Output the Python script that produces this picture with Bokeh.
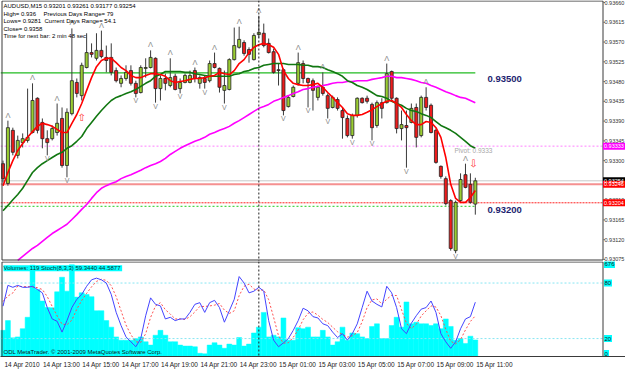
from bokeh.plotting import figure
from bokeh.layouts import column
from bokeh.models import Range1d, FixedTicker, Span, Label, ColumnDataSource
from bokeh.core.properties import value
from bokeh.embed import file_html
from bokeh.resources import INLINE

nan = float("nan")

# ---------------- data ----------------
tick_bars = [0, 8, 16, 24, 32, 40, 48, 56, 64, 72, 80, 88, 96]
tick_labels = ["14 Apr 2010", "14 Apr 13:00", "14 Apr 15:00", "14 Apr 17:00", "14 Apr 19:00",
               "14 Apr 21:00", "14 Apr 23:00", "15 Apr 01:00", "15 Apr 03:00", "15 Apr 05:00",
               "15 Apr 07:00", "15 Apr 09:00", "15 Apr 11:00"]
price_ticks = [0.93075, 0.93120, 0.93165, 0.93210, 0.93255, 0.93300, 0.93345, 0.93390,
               0.93435, 0.93480, 0.93525, 0.93570, 0.93615, 0.93660]

opens = [0.93293, 0.93248, 0.93369, 0.93312, 0.93341, 0.93346, 0.93364, 0.93442, 0.93387, 0.93350,
         0.93350, 0.93364, 0.93396, 0.93289, 0.93407, 0.93478, 0.93448, 0.93512, 0.93546, 0.93533,
         0.93551, 0.93535, 0.93535, 0.93505, 0.93476, 0.93487, 0.93505, 0.93476, 0.93455, 0.93510,
         0.93512, 0.93533, 0.93464, 0.93487, 0.93471, 0.93492, 0.93464, 0.93478, 0.93478, 0.93505,
         0.93476, 0.93487, 0.93482, 0.93521, 0.93510, 0.93460, 0.93462, 0.93530, 0.93558, 0.93569,
         0.93553, 0.93530, 0.93587, 0.93590, 0.93567, 0.93548, 0.93507, 0.93507, 0.93423, 0.93446,
         0.93476, 0.93521, 0.93487, 0.93482, 0.93444, 0.93467, 0.93448, 0.93421, 0.93439, 0.93414,
         0.93396, 0.93357, 0.93403, 0.93442, 0.93442, 0.93428, 0.93380, 0.93432, 0.93432, 0.93503,
         0.93442, 0.93373, 0.93380, 0.93387, 0.93421, 0.93357, 0.93444, 0.93426, 0.93369, 0.93287,
         0.93259, 0.93209, 0.93095, 0.93209, 0.93268, 0.93246, 0.93201]
highs = [0.93300, 0.93391, 0.93375, 0.93357, 0.93362, 0.93464, 0.93476, 0.93444, 0.93396, 0.93369,
         0.93380, 0.93430, 0.93421, 0.93419, 0.93601, 0.93487, 0.93523, 0.93590, 0.93567, 0.93590,
         0.93596, 0.93562, 0.93567, 0.93512, 0.93494, 0.93517, 0.93517, 0.93482, 0.93517, 0.93533,
         0.93551, 0.93535, 0.93494, 0.93498, 0.93533, 0.93498, 0.93487, 0.93498, 0.93505, 0.93512,
         0.93494, 0.93494, 0.93528, 0.93546, 0.93512, 0.93505, 0.93533, 0.93603, 0.93605, 0.93574,
         0.93558, 0.93590, 0.93630, 0.93612, 0.93578, 0.93555, 0.93521, 0.93510, 0.93448, 0.93471,
         0.93546, 0.93528, 0.93489, 0.93487, 0.93471, 0.93501, 0.93453, 0.93448, 0.93444, 0.93421,
         0.93403, 0.93407, 0.93444, 0.93444, 0.93448, 0.93432, 0.93437, 0.93442, 0.93521, 0.93505,
         0.93444, 0.93414, 0.93414, 0.93430, 0.93430, 0.93448, 0.93467, 0.93430, 0.93373, 0.93289,
         0.93264, 0.93212, 0.93209, 0.93271, 0.93293, 0.93271, 0.93261]
lows = [0.93250, 0.93243, 0.93312, 0.93305, 0.93330, 0.93341, 0.93362, 0.93362, 0.93328, 0.93312,
        0.93346, 0.93357, 0.93284, 0.93262, 0.93403, 0.93444, 0.93437, 0.93510, 0.93535, 0.93528,
        0.93533, 0.93501, 0.93494, 0.93478, 0.93467, 0.93482, 0.93471, 0.93444, 0.93453, 0.93489,
        0.93510, 0.93432, 0.93437, 0.93460, 0.93467, 0.93460, 0.93453, 0.93476, 0.93476, 0.93478,
        0.93464, 0.93464, 0.93478, 0.93510, 0.93455, 0.93430, 0.93460, 0.93528, 0.93555, 0.93539,
        0.93523, 0.93528, 0.93580, 0.93558, 0.93544, 0.93498, 0.93471, 0.93403, 0.93421, 0.93444,
        0.93471, 0.93476, 0.93421, 0.93414, 0.93437, 0.93448, 0.93396, 0.93419, 0.93414, 0.93350,
        0.93353, 0.93350, 0.93398, 0.93430, 0.93430, 0.93346, 0.93375, 0.93396, 0.93430, 0.93437,
        0.93362, 0.93346, 0.93284, 0.93385, 0.93330, 0.93353, 0.93414, 0.93362, 0.93293, 0.93259,
        0.93198, 0.93095, 0.93089, 0.93205, 0.93237, 0.93202, 0.93177]
closes = [0.93259, 0.93375, 0.93319, 0.93346, 0.93350, 0.93353, 0.93437, 0.93369, 0.93350, 0.93341,
          0.93373, 0.93385, 0.93289, 0.93410, 0.93482, 0.93453, 0.93517, 0.93546, 0.93542, 0.93551,
          0.93537, 0.93528, 0.93501, 0.93482, 0.93487, 0.93501, 0.93476, 0.93453, 0.93512, 0.93512,
          0.93535, 0.93464, 0.93487, 0.93476, 0.93489, 0.93462, 0.93478, 0.93494, 0.93494, 0.93487,
          0.93489, 0.93478, 0.93521, 0.93512, 0.93467, 0.93471, 0.93530, 0.93562, 0.93576, 0.93544,
          0.93542, 0.93585, 0.93592, 0.93562, 0.93546, 0.93501, 0.93505, 0.93414, 0.93444, 0.93467,
          0.93523, 0.93487, 0.93478, 0.93460, 0.93467, 0.93453, 0.93419, 0.93444, 0.93419, 0.93398,
          0.93357, 0.93403, 0.93442, 0.93432, 0.93435, 0.93375, 0.93432, 0.93419, 0.93498, 0.93442,
          0.93373, 0.93382, 0.93375, 0.93419, 0.93353, 0.93444, 0.93421, 0.93364, 0.93296, 0.93264,
          0.93202, 0.93100, 0.93205, 0.93257, 0.93239, 0.93205, 0.93254]

ma_fast = [0.93243, 0.93273, 0.93300, 0.93323, 0.93339, 0.93353, 0.93366, 0.93378, 0.93385, 0.93382,
           0.93378, 0.93371, 0.93364, 0.93364, 0.93385, 0.93405, 0.93430, 0.93460, 0.93489, 0.93514,
           0.93528, 0.93533, 0.93533, 0.93523, 0.93512, 0.93505, 0.93494, 0.93489, 0.93489, 0.93494,
           0.93498, 0.93498, 0.93496, 0.93492, 0.93482, 0.93478, 0.93480, 0.93482, 0.93485, 0.93487,
           0.93487, 0.93489, 0.93492, 0.93494, 0.93501, 0.93498, 0.93496, 0.93505, 0.93521, 0.93530,
           0.93546, 0.93558, 0.93564, 0.93567, 0.93564, 0.93558, 0.93542, 0.93505, 0.93487, 0.93476,
           0.93473, 0.93471, 0.93471, 0.93473, 0.93476, 0.93467, 0.93455, 0.93444, 0.93432, 0.93421,
           0.93407, 0.93403, 0.93403, 0.93405, 0.93410, 0.93416, 0.93423, 0.93430, 0.93435, 0.93437,
           0.93430, 0.93421, 0.93405, 0.93391, 0.93382, 0.93382, 0.93389, 0.93387, 0.93375, 0.93353,
           0.93307, 0.93246, 0.93214, 0.93205, 0.93205, 0.93216, 0.93232]
ma_mid = [0.93186, 0.93198, 0.93211, 0.93223, 0.93237, 0.93255, 0.93273, 0.93284, 0.93293, 0.93300,
          0.93307, 0.93314, 0.93319, 0.93328, 0.93334, 0.93344, 0.93355, 0.93373, 0.93387, 0.93401,
          0.93414, 0.93426, 0.93437, 0.93444, 0.93448, 0.93453, 0.93457, 0.93462, 0.93469, 0.93476,
          0.93482, 0.93492, 0.93496, 0.93503, 0.93503, 0.93503, 0.93503, 0.93501, 0.93501, 0.93498,
          0.93496, 0.93494, 0.93492, 0.93492, 0.93492, 0.93492, 0.93492, 0.93496, 0.93498, 0.93503,
          0.93505, 0.93510, 0.93512, 0.93517, 0.93519, 0.93521, 0.93521, 0.93521, 0.93519, 0.93519,
          0.93519, 0.93517, 0.93517, 0.93514, 0.93514, 0.93512, 0.93507, 0.93503, 0.93498, 0.93492,
          0.93482, 0.93478, 0.93471, 0.93467, 0.93462, 0.93455, 0.93448, 0.93446, 0.93442, 0.93435,
          0.93430, 0.93426, 0.93419, 0.93414, 0.93412, 0.93407, 0.93403, 0.93398, 0.93389, 0.93380,
          0.93375, 0.93369, 0.93362, 0.93353, 0.93344, 0.93334, 0.93328]
ma_slow = [nan, nan, nan, 0.93073, 0.93082, 0.93091, 0.93100, 0.93107, 0.93116, 0.93125,
           0.93134, 0.93141, 0.93148, 0.93155, 0.93166, 0.93177, 0.93189, 0.93200, 0.93214, 0.93227,
           0.93237, 0.93243, 0.93248, 0.93252, 0.93259, 0.93264, 0.93268, 0.93273, 0.93278, 0.93284,
           0.93289, 0.93293, 0.93298, 0.93305, 0.93314, 0.93321, 0.93328, 0.93334, 0.93339, 0.93344,
           0.93348, 0.93353, 0.93360, 0.93364, 0.93369, 0.93373, 0.93378, 0.93385, 0.93391, 0.93398,
           0.93405, 0.93412, 0.93419, 0.93423, 0.93428, 0.93435, 0.93439, 0.93444, 0.93448, 0.93453,
           0.93457, 0.93462, 0.93464, 0.93467, 0.93469, 0.93471, 0.93473, 0.93476, 0.93478, 0.93478,
           0.93480, 0.93480, 0.93482, 0.93482, 0.93482, 0.93485, 0.93487, 0.93489, 0.93492, 0.93492,
           0.93489, 0.93489, 0.93487, 0.93485, 0.93482, 0.93478, 0.93476, 0.93471, 0.93467, 0.93462,
           0.93457, 0.93453, 0.93448, 0.93444, 0.93442, 0.93437, 0.93432]

volumes = [188, 258, 134, 141, 200, 282, 657, 481, 399, 352,
           350, 465, 570, 470, 660, 427, 458, 446, 430, 329,
           329, 258, 211, 141, 117, 117, 117, 129, 141, 106,
           82, 153, 188, 153, 106, 106, 82, 75, 75, 70,
           23, 19, 82, 99, 82, 59, 89, 82, 136, 75,
           89, 169, 211, 317, 141, 153, 141, 277, 117, 117,
           207, 200, 211, 141, 141, 188, 141, 82, 106, 211,
           117, 169, 164, 141, 129, 216, 235, 129, 129, 223,
           282, 211, 392, 235, 246, 235, 235, 223, 235, 200,
           270, 216, 117, 129, 94, 146, 119]
stoch_main = [55, 77.5, 75.4, 77.5, 75.4, 75.4, 76.5, 73, 69.4, 53.5,
              41.2, 38.7, 27, 39.4, 53.5, 62.4, 67.7, 76.5, 83.5, 85.3,
              83.5, 80, 67.7, 48.3, 34, 21.8, 16.5, 11.2, 20, 44.7,
              64, 57, 55.3, 41.2, 43, 39.4, 41.2, 41.2, 48.3, 57,
              58.8, 48.3, 58.8, 61.3, 53.5, 37.7, 50, 62.4, 87, 80,
              69.4, 71.2, 75.4, 71.2, 39.4, 18.3, 11.2, 15.4, 20, 28.9,
              39.4, 52.8, 50, 43.7, 42.3, 36, 34, 27, 21.1, 25.3,
              18.3, 25.3, 35.9, 53.5, 71.2, 60.6, 57, 54.2, 76.5, 69.4,
              53.5, 30.6, 25.3, 36.6, 44.7, 51.8, 53.5, 60.6, 48.3, 25.3,
              16.5, 9.5, 16.5, 30.6, 41.2, 43.7, 59.3]
stoch_signal = [60, 66, 69.3, 76.8, 76.1, 76.1, 75.8, 75, 73, 65.3,
                54.7, 44.5, 35.6, 35, 40, 51.8, 61.2, 68.9, 75.9, 81.8,
                84.1, 82.9, 77.1, 65.3, 50, 34.7, 24.1, 16.5, 15.9, 25.3,
                42.9, 55.2, 58.8, 51.2, 46.5, 41.2, 41.2, 40.6, 43.6, 48.8,
                54.7, 54.7, 55.3, 56.1, 57.9, 50.8, 47.1, 50, 66.5, 76.5,
                78.8, 73.5, 72, 72.6, 62, 43, 23, 15, 15.5, 21.4,
                29.4, 40.4, 47.4, 48.8, 45.3, 40.7, 37.4, 32.3, 27.4, 24.5,
                21.6, 23, 26.5, 38.2, 53.5, 61.8, 62.9, 57.3, 62.6, 66.7,
                66.5, 51.2, 36.5, 30.8, 35.5, 44.4, 50, 55.3, 54.1, 44.7,
                30, 17.1, 14.2, 18.9, 29.4, 38.5, 44.6]
stoch_levels = [20, 80]
volume_scale_max = 676

fractal_up = [1, 6, 11, 14, 20, 30, 34, 39, 43, 48, 52, 60, 65, 78, 86, 94]
fractal_down = [9, 13, 27, 31, 36, 41, 45, 57, 62, 66, 71, 75, 82, 92]
signal_up_bar, signal_up_price = [16], [0.93398]
signal_down_bar, signal_down_price = [95.6], [0.93293]

pivot_level = 0.93333
bid_level = 0.93254
red_level = 0.93246
red_dot_level = 0.93204
green_levels = [0.93500, 0.93200]
cursor_bar = 52

# ---------------- layout helpers (pixel -> data, for placement only) ----------------
W = 625
PXB = 4.92                 # pixels per bar
X0 = -2.5 / PXB            # data x at canvas px 0
X1 = X0 + W / PXB          # data x at canvas px 625
PPX = 0.00002277           # price per pixel
P_TOP = 0.936646           # price at main canvas y = 0
P_BOT = P_TOP - 261 * PPX  # price at main canvas y = 261
S_TOP = (358.6 - 261) / 0.945   # stochastic value at image y = 261
S_BOT = (358.6 - 358) / 0.945   # stochastic value at image y = 358
V_TOP = volume_scale_max * (358 - 261) / 96.0

def lx(px):
    return X0 + px / PXB

def my(py):
    return P_TOP - py * PPX

def sy(py):
    return S_TOP - (py - 261) * (S_TOP - S_BOT) / 97.0

FONT = "Liberation Sans"
AX = "#3a3a3a"
SCALE_FS = "5.5px"
xs = list(range(len(opens)))
last = xs[-1]
x_axis_px = 602.5

# ---------------- main price panel ----------------
p = figure(width=W, height=261, x_range=Range1d(X0, X1), y_range=Range1d(P_BOT, P_TOP),
           output_backend="svg", toolbar_location=None, x_axis_location=None,
           y_axis_location=None, min_border=0)
p.grid.visible = False
p.outline_line_color = None
p.background_fill_color = "white"
p.border_fill_color = "white"

xr = lx(x_axis_px)
# horizontal levels (up to the price scale)
p.segment(x0=[X0] * 4, y0=[pivot_level, bid_level, red_level, red_dot_level],
          x1=[xr] * 4, y1=[pivot_level, bid_level, red_level, red_dot_level],
          line_color=["#FF80FF", "#C8C8C8", "#F59090", "#FF2020"],
          line_width=[1, 1, 2, 1], line_dash=["2 2", "solid", "solid", "2 1"])
p.segment(x0=[X0], y0=[green_levels[0]], x1=[last], y1=[green_levels[0]],
          line_color="#22BB22", line_width=1.2)
p.segment(x0=[X0], y0=[green_levels[1] - 0.00004], x1=[last], y1=[green_levels[1] - 0.00004],
          line_color="#22CC22", line_dash="2 2", line_width=1)
p.add_layout(Span(location=cursor_bar, dimension="height", line_color="#222222",
                  line_dash="2 2", line_width=1))

# candles
src = ColumnDataSource(dict(
    x=xs, high=highs, low=lows,
    top=[max(o, c) for o, c in zip(opens, closes)],
    bottom=[min(o, c) for o, c in zip(opens, closes)],
    fill=["#9ACD32" if c >= o else "#EE1C1C" for o, c in zip(opens, closes)],
))
p.segment(x0="x", y0="low", x1="x", y1="high", source=src, line_color="#3A3A3A", line_width=1)
p.vbar(x="x", width=0.62, top="top", bottom="bottom", source=src,
       fill_color="fill", line_color="#222222", line_width=0.8)

# moving averages
p.line(xs, ma_slow, line_color="#FF00FF", line_width=1.6)
p.line(xs, ma_mid, line_color="#117711", line_width=1.6)
p.line(xs, ma_fast, line_color="#FF0000", line_width=1.6)

# fractals
p.text(x=fractal_up, y=[highs[i] for i in fractal_up], text=["Λ"] * len(fractal_up),
       text_font=value(FONT), text_font_size="7.5px", text_color="#8A8A8A",
       text_align="center", text_baseline="bottom", y_offset=-1)
p.text(x=fractal_down, y=[lows[i] for i in fractal_down], text=["V"] * len(fractal_down),
       text_font=value(FONT), text_font_size="7px", text_color="#8A8A8A",
       text_align="center", text_baseline="top", y_offset=0)
# signal arrows
p.text(x=signal_up_bar, y=signal_up_price, text=["⇧"], text_font=value("DejaVu Sans"),
       text_font_size="10px", text_color="#FF3030", text_align="center", text_baseline="middle")
p.text(x=signal_down_bar, y=signal_down_price, text=["⇩"], text_font=value("DejaVu Sans"),
       text_font_size="10px", text_color="#FF3030", text_align="center", text_baseline="middle")

# frame borders and price scale
p.segment(x0=[lx(1.5), lx(1.5), lx(1.5), xr], y0=[my(0.5), my(0.5), my(259.5), my(0.5)],
          x1=[lx(1.5), xr, xr, xr], y1=[my(259.5), my(0.5), my(259.5), my(259.5)],
          line_color=AX, line_width=1)
p.segment(x0=[xr] * len(price_ticks), y0=price_ticks, x1=[lx(604.5)] * len(price_ticks),
          y1=price_ticks, line_color="#777777", line_width=1)
p.text(x=[lx(604)] * len(price_ticks), y=price_ticks,
       text=["%.5f" % t for t in price_ticks], text_font=value(FONT), text_font_size=SCALE_FS,
       text_color="#333333", text_align="left", text_baseline="middle")

# highlighted price tags on the scale
tag_levels = [pivot_level, red_dot_level, bid_level, red_level]
tag_colors = ["#FF00FF", "#FF0000", "#000000", "#FF0000"]
p.rect(x=[lx(614)] * 4, y=tag_levels, width=23, height=7, width_units="screen",
       height_units="screen", fill_color=tag_colors, line_color=None)
p.text(x=[lx(603.5)] * 4, y=tag_levels, text=["%.5f" % v for v in tag_levels],
       text_font=value(FONT), text_font_size=SCALE_FS, text_color="white",
       text_align="left", text_baseline="middle")


def add_text(fig, x, y, text, size="6px", color="black", bold=False, bg=None):
    kw = dict(x=x, y=y, text=text, text_font=FONT, text_font_size=size, text_color=color,
              text_baseline="middle", text_align="left")
    if bold:
        kw["text_font_style"] = "bold"
    if bg is not None:
        kw["background_fill_color"] = bg
    fig.add_layout(Label(**kw))

# info lines
add_text(p, lx(3), my(5.5), "AUDUSD,M15  0.93201 0.93261 0.93177 0.93254")
add_text(p, lx(3), my(13), "High= 0.936")
add_text(p, lx(43), my(13), "Previous Days Range= 79")
add_text(p, lx(3), my(20.5), "Lows= 0.9281")
add_text(p, lx(44), my(20.5), "Current Days Range= 54.1")
add_text(p, lx(3), my(28), "Close= 0.9358")
add_text(p, lx(3), my(35), "Time for next bar: 2 min 48 sec")
add_text(p, lx(487), my(78.5), "0.93500", size="9.5px", color="#1E1E70", bold=True)
add_text(p, lx(487), my(209.5), "0.93200", size="9.5px", color="#1E1E70", bold=True)
add_text(p, lx(454), my(149.5), "Pivot: 0.9333", size="6.5px", color="#A8A8A8")

# ---------------- volume / stochastic panel ----------------
q = figure(width=W, height=109, x_range=p.x_range, y_range=Range1d(S_BOT, S_TOP),
           output_backend="svg", toolbar_location=None, y_axis_location=None,
           min_border_left=0, min_border_right=0, min_border_top=0, min_border_bottom=12)
q.extra_y_ranges = {"vol": Range1d(0, V_TOP)}
q.grid.visible = False
q.outline_line_color = None
q.background_fill_color = "white"
q.border_fill_color = "white"

xa = q.xaxis[0]
label_shift = 3.9   # labels start at their bar (MetaTrader style, left aligned)
shifted = [b + label_shift for b in tick_bars]
xa.ticker = FixedTicker(ticks=shifted)
xa.major_label_overrides = {s: t for s, t in zip(shifted, tick_labels)}
xa.major_label_text_font = FONT
xa.major_label_text_font_size = "6.5px"
xa.major_label_text_color = "#222222"
xa.major_label_standoff = 2
xa.major_tick_out = 2
xa.major_tick_in = 0
xa.major_tick_line_color = None
xa.minor_tick_line_color = None
xa.axis_line_color = AX

q.vbar(x=xs, width=1.0, top=volumes, bottom=0, y_range_name="vol",
       fill_color="#00FFFF", line_color="#00FFFF", line_width=0.5)
q.segment(x0=[X0, X0], y0=stoch_levels, x1=[xr, xr], y1=stoch_levels,
          line_color="#88E6F2", line_dash="2 2", line_width=1)
q.add_layout(Span(location=cursor_bar, dimension="height", line_color="#222222",
                  line_dash="2 2", line_width=1))
q.line(xs, stoch_signal, line_color="#FF5050", line_dash="2 2", line_width=1)
q.line(xs, stoch_main, line_color="#4444FF", line_width=1)

# borders and small scale
q.segment(x0=[lx(1.5), lx(1.5), xr], y0=[sy(261.5), sy(261.5), sy(261.5)],
          x1=[lx(1.5), xr, xr], y1=[sy(358), sy(261.5), sy(358)],
          line_color=AX, line_width=1)
scale_texts = [str(volume_scale_max), str(stoch_levels[1]), str(stoch_levels[0]), "0"]
scale_y = [sy(264), stoch_levels[1], stoch_levels[0], sy(355)]
scale_w = [11, 8, 8, 5]
q.rect(x=[lx(603.5 + w / 2.0) for w in scale_w], y=scale_y, width=scale_w, height=7,
       width_units="screen", height_units="screen", fill_color="#00FFFF", line_color=None)
q.text(x=[lx(604)] * 4, y=scale_y, text=scale_texts, text_font=value(FONT),
       text_font_size="6px", text_color="#102020", text_align="left", text_baseline="middle")

add_text(q, lx(3), sy(268), "Volumes: 119  Stoch(8,3,3) 59.3440 44.5877", size="6px",
         color="#053030", bg="#00FFFF")
add_text(q, lx(3), sy(353), "ODL MetaTrader. © 2001-2009 MetaQuotes Software Corp.",
         size="6px", color="#102020")

layout = column(p, q, spacing=0)
open("out.html", "w").write(file_html(layout, INLINE))
